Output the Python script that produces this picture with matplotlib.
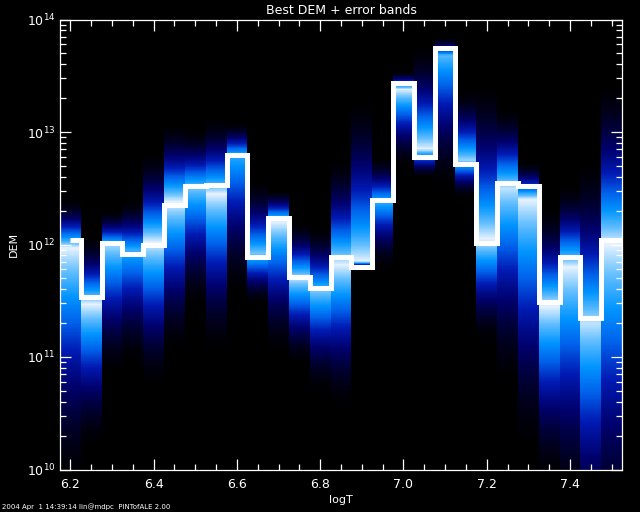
import numpy as np
import matplotlib
matplotlib.use("Agg")
import matplotlib.pyplot as plt
from matplotlib.colors import LinearSegmentedColormap
from matplotlib.ticker import MultipleLocator, LogLocator

# ---- data ----
logT = [6.20, 6.25, 6.30, 6.35, 6.40, 6.45, 6.50, 6.55, 6.60, 6.65, 6.70, 6.75, 6.80, 6.85,
        6.90, 6.95, 7.00, 7.05, 7.10, 7.15, 7.20, 7.25, 7.30, 7.35, 7.40, 7.45, 7.50]
best_log_dem = [12.04, 11.53, 12.01, 11.92, 12.00, 12.35, 12.52, 12.53, 12.80, 11.89, 12.24, 11.71,
                11.61, 11.89, 11.80, 12.40, 13.44, 12.78, 13.75, 12.72, 12.01, 12.55, 12.52, 11.49,
                11.89, 11.35, 12.04]
# error-band description per bin (log10 DEM): brightest point, upper and lower extent, peak level
band_peak = [11.97, 11.47, 11.98, 11.95, 12.02, 12.38, 12.50, 12.45, 12.80, 11.92, 12.20, 11.70,
             11.58, 11.82, 11.85, 12.38, 13.38, 12.85, 13.68, 12.75, 12.05, 12.50, 12.40, 11.45,
             11.80, 11.30, 12.00]
band_top = [12.42, 12.10, 12.32, 12.42, 12.85, 13.10, 13.05, 13.15, 13.10, 12.60, 12.50, 12.22,
            12.18, 12.80, 13.35, 12.80, 13.55, 13.80, 13.85, 13.40, 13.50, 13.25, 12.75, 12.35,
            12.55, 12.80, 13.50]
band_bottom = [9.80, 10.15, 10.80, 10.90, 10.70, 11.00, 11.40, 11.00, 11.50, 11.45, 11.00, 10.90,
               10.65, 10.50, 11.78, 11.75, 12.65, 12.58, 12.45, 12.40, 11.10, 10.70, 10.10, 9.85,
               9.55, 9.15, 9.15]
band_level = [1.0, 1.0, 0.9, 0.75, 1.0, 1.0, 0.85, 1.0, 0.75, 0.85, 1.0, 0.95, 0.85, 1.0,
              1.0, 0.75, 1.0, 1.0, 0.8, 0.9, 1.0, 0.95, 1.0, 1.0, 1.0, 0.95, 1.0]
xticks = [6.2, 6.4, 6.6, 6.8, 7.0, 7.2, 7.4]
xtick_labels = ["6.2", "6.4", "6.6", "6.8", "7.0", "7.2", "7.4"]
title = "Best DEM + error bands"
stamp = "2004 Apr  1 14:39:14 lin@mdpc  PINTofALE 2.00"

# ---- figure ----
fig = plt.figure(figsize=(6.4, 5.12), dpi=100, facecolor="black")
ax = fig.add_axes([60 / 640, 1 - 469.5 / 512, 562 / 640, 450 / 512])
ax.set_facecolor("black")

cmap = LinearSegmentedColormap.from_list("bluewhite", [
    (0.00, (0.0, 0.0, 0.0)),
    (0.06, (0.0, 0.0, 0.12)),
    (0.20, (0.0, 0.0, 0.42)),
    (0.35, (0.0, 0.10, 0.70)),
    (0.50, (0.0, 0.38, 0.92)),
    (0.65, (0.0, 0.58, 1.00)),
    (0.83, (0.40, 0.75, 1.00)),
    (1.00, (0.90, 0.95, 1.00)),
])

T = np.array(logT)
half = 0.025
xedges = np.concatenate([T - half, [T[-1] + half]])
yl = np.linspace(9.9, 14.1, 841)
ycent = 0.5 * (yl[:-1] + yl[1:])
Z = np.zeros((len(ycent), len(T)))
p = 1.9
for i in range(len(T)):
    pk, tp, bt, a = band_peak[i], band_top[i], band_bottom[i], band_level[i]
    d_up = np.clip(1 - (ycent - pk) / (tp - pk), 0, 1)
    d_dn = np.clip(1 - (pk - ycent) / (pk - bt), 0, 1)
    prof = np.where(ycent >= pk, d_up, d_dn) ** p
    Z[:, i] = a * prof
ax.pcolormesh(xedges, 10 ** yl, Z, cmap=cmap, vmin=0, vmax=1, shading="flat")

# best DEM step line
dem = 10 ** np.array(best_log_dem)
xs = [T[0]]
ys = [dem[0]]
for i in range(len(T)):
    xr = T[i] + half
    xs += [xr]
    ys += [dem[i]]
    if i + 1 < len(T):
        xs += [xr]
        ys += [dem[i + 1]]
ax.plot(xs, ys, color="white", lw=3.6, solid_joinstyle="miter", solid_capstyle="butt")

ax.set_yscale("log")
ax.set_xlim(T[0] - half, T[-1] + half)
ax.set_ylim(1e10, 1e14)

for s in ax.spines.values():
    s.set_color("white")
    s.set_linewidth(0.9)
ax.set_xticks(xticks)
ax.set_xticklabels(xtick_labels)
ax.xaxis.set_minor_locator(MultipleLocator(0.05))
ax.yaxis.set_major_locator(LogLocator(base=10, numticks=10))
ax.yaxis.set_minor_locator(LogLocator(base=10, subs=np.arange(2, 10), numticks=100))
ax.tick_params(which="both", direction="in", top=True, right=True, colors="white",
               labelcolor="white", labelsize=9, width=0.9)
ax.tick_params(which="major", length=8)
ax.tick_params(which="minor", length=4.5)
ax.tick_params(axis="x", pad=6)

ax.set_title(title, color="white", fontsize=9, pad=4)
ax.set_xlabel("logT", color="white", fontsize=8, labelpad=3)
ax.set_ylabel("DEM", color="white", fontsize=8)
ax.yaxis.set_label_coords(-(60 - 19) / 562, 0.5)
fig.text(2 / 640, 1 - 507 / 512, stamp, color="white", fontsize=5, va="center", ha="left")

fig.savefig("out.png", dpi=100, facecolor="black")
